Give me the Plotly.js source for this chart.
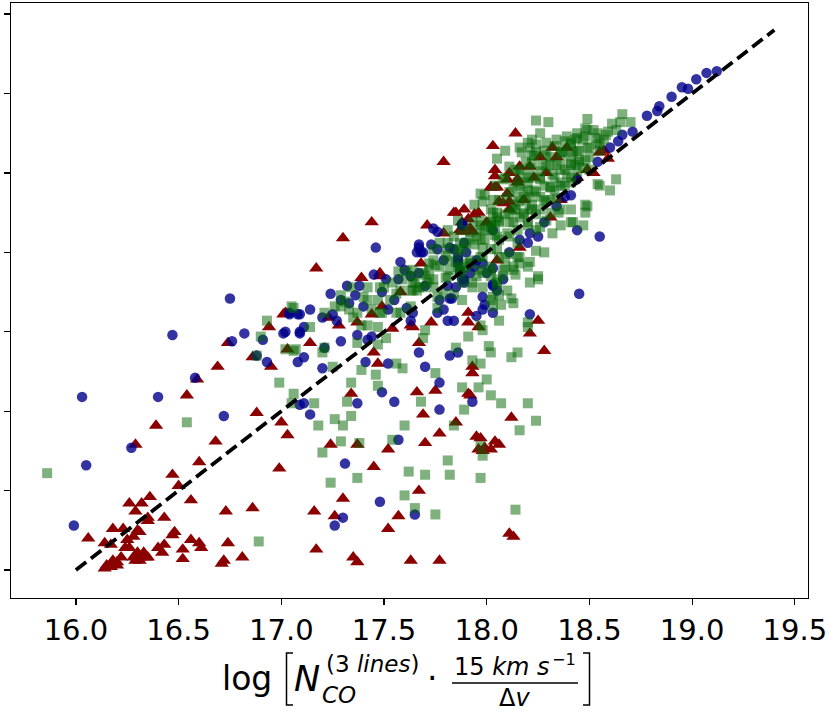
<!DOCTYPE html>
<html>
<head>
<meta charset="utf-8">
<script src="https://cdn.plot.ly/plotly-3.0.1.min.js"></script>
<style>html,body{margin:0;padding:0;background:#fff;}#chart{width:831px;height:711px;}</style>
</head>
<body>
<div id="chart"></div>
<script>
// ---- data ----
const xTickVals = [16.0, 16.5, 17.0, 17.5, 18.0, 18.5, 19.0, 19.5];
const xTickText = ["16.0", "16.5", "17.0", "17.5", "18.0", "18.5", "19.0", "19.5"];
const yTickVals = [16.0, 16.5, 17.0, 17.5, 18.0, 18.5, 19.0, 19.5];

const fitX = [16.0, 19.4];
const fitY = [16.0, 19.4];

const redX = [17.01,16.94,16.74,16.86,16.95,17.03,16.69,16.59,16.54,16.39,16.29,16.88,17.00,17.03,16.68,16.60,16.47,16.99,16.50,16.36,16.26,16.32,16.56,16.29,16.73,16.86,16.35,16.43,16.18,16.23,16.30,16.06,16.14,16.17,16.25,16.28,16.31,16.47,16.48,16.43,16.40,16.42,16.56,16.52,16.52,16.60,16.61,16.74,16.81,16.72,16.71,16.24,16.22,16.20,16.18,16.15,16.14,16.17,16.20,16.28,16.30,16.31,16.29,16.31,16.34,16.35,16.33,16.26,16.35,
17.44,17.30,17.17,17.39,17.48,17.71,17.79,17.84,17.89,17.94,17.88,17.93,17.02,17.23,17.28,17.14,17.44,17.54,17.63,17.73,17.67,17.45,17.47,17.91,17.91,17.96,17.93,17.93,17.34,17.66,17.75,17.91,17.58,17.68,17.49,17.37,
17.69,17.85,17.77,17.70,17.52,17.37,17.24,18.12,17.97,18.02,18.06,17.98,17.45,17.67,17.30,17.16,17.26,17.57,17.52,18.13,17.17,17.35,17.37,17.63,17.77,
18.25,18.21,18.28,17.92,17.95,17.99,18.04,17.96,18.11,
18.14,18.03,18.04,18.04,18.02,18.04,18.11,18.16,17.85,17.96,17.91,17.88,18.00,17.87,17.92,18.06,18.10,18.15,18.21,18.26,18.32,18.39,18.34,18.29,18.23,18.31,18.36,18.16,18.05,18.49,18.57,18.18,18.11,
18.55,18.52,18.44,18.15,18.10,17.48,17.64,17.79,
18.02,18.05,18.59,18.08,18.11];
const redY = [17.61,17.53,17.43,17.34,17.28,17.39,17.28,17.20,17.10,16.91,16.79,16.99,16.93,16.85,16.81,16.68,16.60,16.64,16.53,16.46,16.42,16.42,16.44,16.37,16.37,16.39,16.33,16.33,16.26,16.26,16.25,16.20,16.17,16.16,16.19,16.21,16.24,16.22,16.24,16.16,16.14,16.11,16.19,16.13,16.07,16.17,16.14,16.17,16.08,16.06,16.04,16.14,16.08,16.05,16.06,16.03,16.01,16.02,16.03,16.08,16.11,16.08,16.06,16.06,16.08,16.08,16.11,16.14,16.31,
18.19,18.09,17.90,17.84,17.85,18.17,18.12,18.25,18.27,18.24,18.13,18.13,17.62,17.59,17.54,17.43,17.61,17.52,17.54,17.56,17.43,17.37,17.30,17.62,17.56,17.53,17.28,17.24,17.11,17.12,17.13,17.11,17.75,17.93,17.66,17.56,
16.98,16.93,16.86,16.80,16.76,16.79,16.79,16.96,16.83,16.76,16.79,16.75,16.65,16.50,16.45,16.37,16.34,16.34,16.26,16.21,16.13,16.08,16.05,16.06,16.06,
17.57,17.49,17.38,17.10,16.84,16.77,16.81,16.76,16.23,
18.75,18.67,18.52,18.48,18.41,18.41,18.50,18.54,18.25,18.25,18.21,18.19,18.19,18.14,18.15,18.32,18.46,18.46,18.54,18.60,18.66,18.66,18.60,18.50,18.47,18.22,18.33,18.03,17.95,18.52,18.64,18.33,18.27,
18.63,18.50,18.47,18.44,18.37,17.87,17.53,18.57,
18.41,18.41,18.59,18.31,18.32];

const blueX = [16.75,16.47,16.76,16.82,16.91,17.01,17.09,17.04,17.08,16.93,16.88,17.08,16.03,16.40,16.58,16.72,16.27,16.05,15.99,17.09,
17.46,17.58,17.74,17.67,17.73,17.69,17.76,17.79,17.88,17.84,17.86,17.87,17.81,17.85,17.77,17.83,17.76,17.79,17.81,17.84,
17.64,17.63,17.52,17.55,17.49,17.51,17.45,17.38,17.32,17.24,17.29,17.36,17.40,17.33,17.25,17.20,17.14,17.09,17.04,17.02,
17.11,17.09,17.27,17.37,17.44,17.42,17.29,17.21,17.11,17.20,17.41,17.52,17.67,17.70,17.77,17.82,17.86,17.49,17.61,17.67,
17.70,17.89,17.94,17.89,
17.11,17.14,17.37,17.55,17.77,17.93,17.57,17.31,17.48,17.30,17.26,17.65,
18.78,18.71,18.66,18.64,18.60,18.54,18.44,18.41,18.44,18.55,18.45,18.28,18.25,18.20,18.21,18.08,18.05,18.03,17.88,17.82,
17.86,17.89,17.92,17.98,18.03,18.03,18.11,18.16,18.34,18.38,
19.12,19.07,19.02,18.98,18.95,18.90,18.84,18.83,
18.21,18.03,17.98,17.95,17.99,18.03,
17.76,17.68,17.60,17.57,17.63,17.88,17.95,17.82,17.90,
17.67,17.66,17.86,18.00,17.98];
const blueY = [17.71,17.48,17.44,17.49,17.45,17.49,17.49,17.62,17.61,17.31,17.35,17.31,17.09,17.09,17.21,16.97,16.77,16.66,16.28,17.04,
18.03,17.94,18.15,18.05,18.05,18.00,18.02,17.95,18.18,18.02,17.95,17.88,17.79,17.78,17.70,17.71,17.62,17.64,17.57,17.57,
17.62,17.57,17.64,17.70,17.75,17.83,17.86,17.79,17.79,17.74,17.70,17.73,17.66,17.68,17.61,17.59,17.64,17.61,17.61,17.50,
17.53,17.50,17.57,17.48,17.47,17.45,17.44,17.40,17.34,17.27,17.31,17.30,17.37,17.28,17.18,17.35,17.37,17.12,17.65,17.87,
17.79,17.81,17.91,18.06,
17.05,16.98,17.05,17.06,17.01,17.06,16.82,16.67,16.43,16.33,16.28,16.35,
18.86,18.76,18.74,18.70,18.66,18.57,18.46,18.36,18.14,18.10,17.74,18.19,18.10,18.06,18.12,17.83,17.76,17.79,18.17,18.03,
17.97,17.83,17.87,17.93,17.90,18.14,18.00,18.08,18.29,18.35,
19.14,19.13,19.09,19.03,19.04,18.98,18.92,18.89,
17.61,17.62,17.64,17.60,17.67,17.80,
18.13,18.00,17.89,17.83,17.85,17.83,17.95,17.71,18.00,
18.03,18.00,17.93,17.87,17.72];

const greenX = [15.86,16.54,16.99,17.06,17.05,16.89,16.93,16.90,17.05,17.02,17.06,16.88,
17.57,17.61,17.64,17.42,17.34,17.29,17.26,17.31,17.37,17.35,17.42,17.47,17.44,17.48,17.56,17.06,17.21,17.14,17.39,17.42,
17.47,17.51,17.47,17.37,17.21,17.20,17.07,17.25,17.39,17.46,17.34,17.47,17.56,17.59,17.70,17.69,17.75,17.85,17.91,17.88,
17.93,17.96,17.76,17.79,17.88,17.93,17.74,17.71,17.66,17.54,17.48,17.40,17.33,17.29,
17.16,17.32,17.26,17.34,17.30,17.18,17.29,17.20,17.38,17.54,17.60,17.68,17.84,17.89,18.07,18.20,18.24,18.16,17.97,17.98,
17.81,17.62,17.70,17.82,17.97,17.37,17.24,17.60,17.65,17.75,18.14,
18.13,18.06,18.20,17.98,18.01,18.02,18.12,18.15,17.97,18.00,18.02,18.03,18.06,18.07,18.21,18.25,
18.49,18.66,18.70,18.65,18.61,18.24,18.30,18.26,18.22,18.48,18.54,18.58,18.44,18.39,18.34,18.29,18.21,18.17,18.24,18.31,
18.37,18.44,18.50,18.55,18.47,18.41,18.63,18.55,18.60,18.49,18.48,18.47,18.36,18.29,18.24,18.24,18.28,18.21,18.25,18.14,
18.13,18.16,18.09,17.98,18.03,18.08,18.15,18.20,18.26,18.31,18.36,18.41,18.36,18.29,18.22,18.16,18.11,18.41,18.45,18.50,
18.15,18.21,18.26,18.31,18.36,18.41,18.22,18.18,18.11,18.06,18.02,17.97,17.92,17.87,17.84,18.06,18.11,18.15,18.20,18.26,
18.02,17.97,17.92,18.06,17.98,17.93,17.90,17.86,18.05,18.12,18.16,18.20,18.05,18.09,
18.52,18.63,18.42,18.32,18.57,18.37,
18.03,17.97,17.86,17.81,17.77,17.74,17.81,17.98,18.09,18.15,18.20,18.08,18.02,17.97,17.87,17.82,17.77,17.72,17.69,17.64,
17.59,17.50,17.58,17.64,17.69,17.72,17.74,17.81,17.86,17.90,18.02,18.05,17.98,18.02,17.84,17.88,17.76,17.63,17.58,17.49,
17.53,17.97,18.02,18.05,17.93,17.88,18.14,18.20,18.16,18.10,18.05,17.97,18.20,18.03,
18.44,18.49,18.59,18.41,18.24,18.22,18.29,18.36,18.42,18.49,18.54,18.45,18.41,18.34,18.27,18.21,18.16,18.20,18.26,18.32,
18.39,18.44,18.47,18.24,18.31,18.36,18.41,18.18,18.13,18.10,18.16,18.22,18.29,18.34,18.11,18.18,18.24,18.31,18.05,18.06,
18.13,18.20,18.02,17.97,18.26,18.54,18.48,18.41,18.35,
17.64,17.72,17.81,17.86,17.90,17.95,18.02,18.13,18.15,18.05,17.98,17.92,17.87,17.81,17.74,17.67,17.63,17.56,17.88,17.95,
18.02,18.05,18.10,18.08,18.13,18.16,18.11,
17.94,17.99,18.04,18.09,18.14,18.19,18.23,18.28,18.33,18.38,18.43,18.48,18.53,
17.97,18.02,18.06,18.11,18.16,18.21,18.26,18.31,18.36,18.41,18.45,18.55,
17.92,17.99,18.04,18.09,18.14,18.19,18.23,18.28,18.33,18.38,18.43,18.48,
17.89,17.94,17.99,18.04,18.21,18.28,18.33,18.38,18.50,
17.80,17.75,17.85,17.70,17.80,17.65];
const greenY = [16.61,16.93,17.18,17.11,17.05,16.18,17.57,17.47,17.66,17.39,17.38,17.35,
17.88,17.88,17.81,17.78,17.78,17.73,17.66,17.69,17.62,17.59,17.70,17.70,17.64,17.62,17.62,17.65,17.62,17.53,17.54,17.54,
17.53,17.46,17.42,17.43,17.40,17.37,17.39,17.28,17.26,17.23,17.18,17.16,17.30,17.27,17.51,17.46,17.24,17.40,17.47,17.15,
17.32,17.15,17.65,17.74,17.88,17.78,17.78,17.81,17.76,17.81,17.78,17.72,17.64,17.66,
17.05,17.06,16.95,16.97,16.91,16.91,16.81,16.74,16.80,16.82,16.91,17.06,16.91,17.01,17.05,17.05,16.94,16.88,16.78,16.72,
16.69,16.62,16.60,16.60,16.58,16.58,16.55,16.47,16.39,16.35,16.38,
17.68,17.57,17.56,17.51,17.41,17.37,17.34,17.37,17.30,17.20,17.10,17.72,17.73,17.67,17.81,17.83,
18.84,18.87,18.82,18.82,18.81,18.83,18.82,18.75,18.71,18.78,18.75,18.74,18.75,18.73,18.71,18.69,18.66,18.63,18.63,18.60,
18.63,18.64,18.66,18.69,18.71,18.69,18.46,18.42,18.39,18.29,18.25,18.17,18.17,18.20,18.14,18.01,18.00,17.94,17.85,17.86,
17.91,17.97,17.91,18.32,18.25,18.46,18.44,18.47,18.46,18.41,18.44,18.47,18.52,18.54,18.56,18.52,18.54,18.56,18.58,18.60,
18.35,18.35,18.35,18.33,18.27,18.27,18.27,18.25,18.19,18.20,18.14,18.08,18.08,18.06,18.10,18.08,18.10,18.14,18.19,18.27,
18.02,17.97,17.95,17.97,17.87,17.81,17.91,17.91,17.83,17.71,18.66,18.69,18.59,18.64,
18.77,18.77,18.19,18.12,18.71,18.64,
18.33,18.37,18.20,18.14,18.06,18.02,18.02,18.03,17.97,17.97,17.91,17.89,17.91,17.89,17.87,17.89,17.91,17.89,17.87,17.85,
17.83,17.78,17.76,17.76,17.78,17.83,17.95,17.95,18.00,17.93,17.85,17.78,17.78,17.70,17.74,17.70,17.72,17.66,17.62,17.62,
17.70,18.14,18.19,18.22,18.19,18.14,18.27,18.39,18.22,18.12,18.10,17.54,17.53,17.66,
18.72,18.77,18.76,18.68,18.68,18.61,18.61,18.63,18.63,18.66,18.68,18.57,18.55,18.55,18.55,18.53,18.49,18.44,18.47,18.49,
18.49,18.51,18.53,18.38,18.41,18.42,18.44,18.38,18.41,18.34,18.32,18.30,18.32,18.34,18.25,18.24,18.24,18.25,18.25,18.19,
18.19,18.17,18.19,18.17,18.16,18.43,18.30,18.19,18.25,
17.89,17.93,18.06,18.02,18.06,18.10,18.16,18.27,18.06,18.02,17.97,17.93,17.89,17.85,17.83,17.78,17.76,17.74,17.81,17.85,
17.89,17.81,17.76,17.85,17.89,17.93,17.99,
18.30,18.36,18.42,18.47,18.52,18.57,18.61,18.64,18.67,18.70,18.71,18.73,18.72,
18.20,18.27,18.33,18.38,18.42,18.47,18.51,18.55,18.58,18.61,18.64,18.64,
18.13,18.14,18.17,18.24,18.30,18.33,18.39,18.42,18.47,18.52,18.55,18.58,
18.02,18.05,18.08,18.11,18.27,18.33,18.39,18.42,18.52,
17.98,17.92,17.94,17.86,17.84,17.81];

// ---- plot geometry helpers for the composed axis title ----
const PL = 11, PW = 797, PB = 598, PH = 595;
const px = v => (v - PL) / PW;
const py = v => (PB - v) / PH;
const FONT = "DejaVu Sans";

const traces = [
  {x: redX, y: redY, type: "scatter", mode: "markers", hoverinfo: "skip",
   marker: {symbol: "triangle-up", size: 12.5, color: "rgb(139,0,0)", line: {width: 0}}},
  {x: blueX, y: blueY, type: "scatter", mode: "markers", hoverinfo: "skip",
   marker: {symbol: "circle", size: 10.5, color: "rgba(0,0,139,0.8)", line: {width: 0}}},
  {x: greenX, y: greenY, type: "scatter", mode: "markers", hoverinfo: "skip",
   marker: {symbol: "square", size: 10, color: "rgba(0,100,0,0.5)", line: {width: 0}}},
  {x: fitX, y: fitY, type: "scatter", mode: "lines", hoverinfo: "skip",
   line: {color: "black", width: 3.8, dash: "13px,6px"}}
];

function ann(text, cx, cy, size) {
  return {text: text, x: px(cx), y: py(cy), xref: "paper", yref: "paper",
          xanchor: "center", yanchor: "middle", showarrow: false,
          font: {family: FONT, size: size, color: "black"}};
}

const annotations = [
  ann("log", 247.5, 678.6, 33),
  ann("<i>N</i>", 307, 678.6, 35),
  ann("(3 <i>lines</i>)", 372, 664, 23),
  ann("<i>CO</i>", 338.5, 695, 23),
  ann("·", 432, 678.6, 33),
  ann("15 <i>km s</i>", 501.5, 666.7, 24),
  ann("−1", 563.5, 659.5, 16),
  ann("Δ<i>v</i>", 514.5, 697.7, 24)
];

const shapes = [
  {type: "path", xref: "paper", yref: "paper",
   path: `M ${px(293)} ${py(653)} L ${px(286.5)} ${py(653)} L ${px(286.5)} ${py(705)} L ${px(293)} ${py(705)}`,
   line: {color: "black", width: 1.5}},
  {type: "path", xref: "paper", yref: "paper",
   path: `M ${px(583)} ${py(653)} L ${px(589.5)} ${py(653)} L ${px(589.5)} ${py(705)} L ${px(583)} ${py(705)}`,
   line: {color: "black", width: 1.5}},
  {type: "line", xref: "paper", yref: "paper",
   x0: px(452), x1: px(578), y0: py(683), y1: py(683),
   line: {color: "black", width: 1.5}}
];

const layout = {
  width: 831, height: 711,
  margin: {l: PL, r: 831 - PL - PW, t: 3, b: 711 - PB, pad: 0},
  paper_bgcolor: "white", plot_bgcolor: "white",
  showlegend: false,
  font: {family: FONT, color: "black"},
  xaxis: {
    range: [15.684, 19.564], tickvals: xTickVals, ticktext: xTickText,
    ticks: "outside", ticklen: 6, tickwidth: 1.3, tickcolor: "black",
    showline: true, linecolor: "black", linewidth: 1.3, mirror: true,
    showgrid: false, zeroline: false,
    tickfont: {family: FONT, size: 29, color: "black"}
  },
  yaxis: {
    range: [15.824, 19.570], tickvals: yTickVals, showticklabels: false,
    ticks: "outside", ticklen: 6, tickwidth: 1.3, tickcolor: "black",
    showline: true, linecolor: "black", linewidth: 1.3, mirror: true,
    showgrid: false, zeroline: false
  },
  annotations: annotations,
  shapes: shapes
};

Plotly.newPlot("chart", traces, layout, {staticPlot: true, displayModeBar: false});
</script>
</body>
</html>
